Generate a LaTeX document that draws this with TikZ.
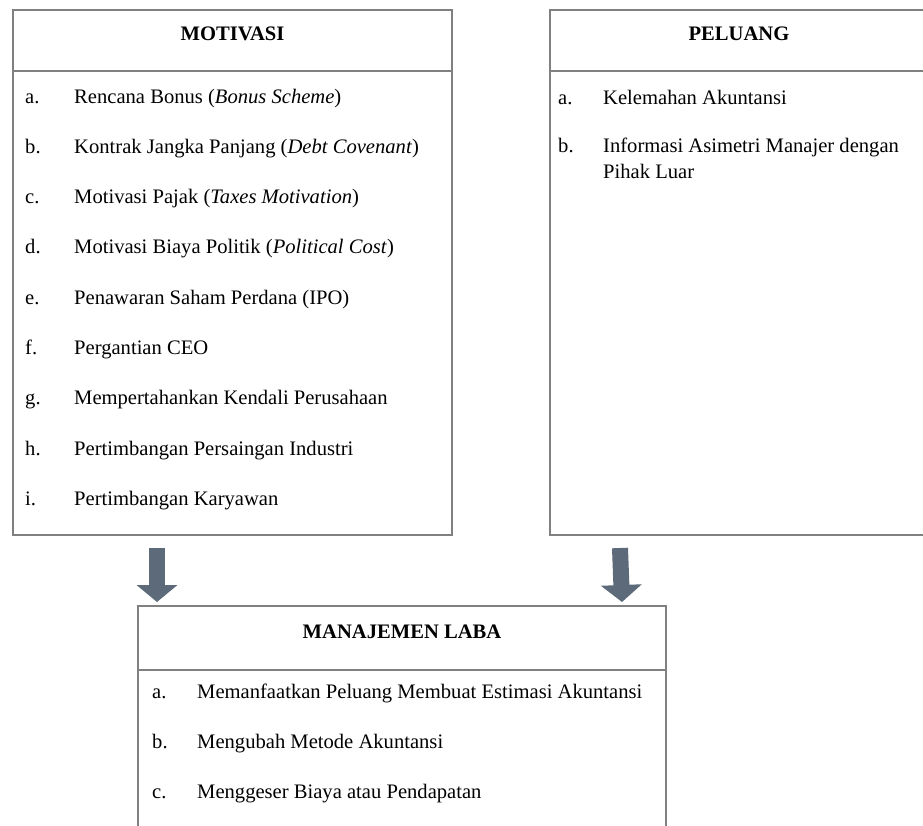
\documentclass[tikz,border=0pt]{standalone}
\usepackage{fontspec}
\setmainfont{Liberation Serif}
\usepackage{tikz}
\usetikzlibrary{arrows.meta}
\definecolor{boxgray}{RGB}{128,128,128}
\definecolor{arrowgray}{RGB}{92,106,122}
\newcommand{\diagsize}{\fontsize{20.6}{25}\selectfont}
\tikzset{
  box/.style={draw=boxgray, line width=2pt, rectangle, inner sep=0},
  boxline/.style={draw=boxgray, line width=2pt},
  boxtitle/.style={font=\diagsize\bfseries, inner sep=0},
  itemlbl/.style={anchor=base west, inner sep=0},
  itemtext/.style={anchor=base west, inner sep=0},
  fatarrow/.style={draw=arrowgray, line width=16pt, -{Triangle[width=40pt,length=17pt]}}
}

\begin{document}
\begin{tikzpicture}[x=1pt, y=-1pt, font=\diagsize]
      \clip (0,0) rectangle (923,825);

      % motivasi
      \node[box, minimum width=439pt, minimum height=525pt] (motivasi) at (232.5,272.5) {};
      \node[boxtitle] (motivasititle) at (232.5,34) {MOTIVASI};
      \draw[boxline] (motivasi.west |- 0,71) -- (motivasi.east |- 0,71);
      \foreach \lbl/\txt [count=\i from 0] in {
          a./Rencana Bonus (\textit{Bonus Scheme}),
          b./Kontrak Jangka Panjang (\textit{Debt Covenant}),
          c./Motivasi Pajak (\textit{Taxes Motivation}),
          d./Motivasi Biaya Politik (\textit{Political Cost}),
          e./Penawaran Saham Perdana (IPO),
          f./Pergantian CEO,
          g./Mempertahankan Kendali Perusahaan,
          h./Pertimbangan Persaingan Industri,
          i./Pertimbangan Karyawan} {
        \node[itemlbl] (mot\i lbl) at (25, 103+50.3*\i) {\lbl};
        \node[itemtext] (mot\i) at (74, 103+50.3*\i) {\txt};
      }

      % peluang
      \node[box, minimum width=378pt, minimum height=525pt] (peluang) at (739,272.5) {};
      \node[boxtitle] (peluangtitle) at (739,34) {PELUANG};
      \draw[boxline] (peluang.west |- 0,71) -- (peluang.east |- 0,71);
      \node[itemlbl] (pel0lbl) at (558,104) {a.};
      \node[itemtext] (pel0) at (603,104) {Kelemahan Akuntansi};
      \node[itemlbl] (pel1lbl) at (558,152) {b.};
      \node[itemtext] (pel1) at (603,152) {Informasi Asimetri Manajer dengan};
      \node[itemtext] (pel1b) at (603,178) {Pihak Luar};

      % manajemen laba
      \node[box, minimum width=528pt, minimum height=274pt] (laba) at (402,743) {};
      \node[boxtitle] (labatitle) at (402,632) {MANAJEMEN LABA};
      \draw[boxline] (laba.west |- 0,670) -- (laba.east |- 0,670);
      \foreach \lbl/\txt [count=\i from 0] in {
          a./Memanfaatkan Peluang Membuat Estimasi Akuntansi,
          b./Mengubah Metode Akuntansi,
          c./Menggeser Biaya atau Pendapatan} {
        \node[itemlbl] (lab\i lbl) at (152, 698+50*\i) {\lbl};
        \node[itemtext] (lab\i) at (197, 698+50*\i) {\txt};
      }

      \draw[fatarrow] ([xshift=145pt,yshift=-12pt]motivasi.south west) -- ([xshift=20pt,yshift=3pt]laba.north west);
      \draw[fatarrow] ([xshift=71pt,yshift=-12pt]peluang.south west) -- ([xshift=-45pt,yshift=3pt]laba.north east);
    \end{tikzpicture}
\end{document}
